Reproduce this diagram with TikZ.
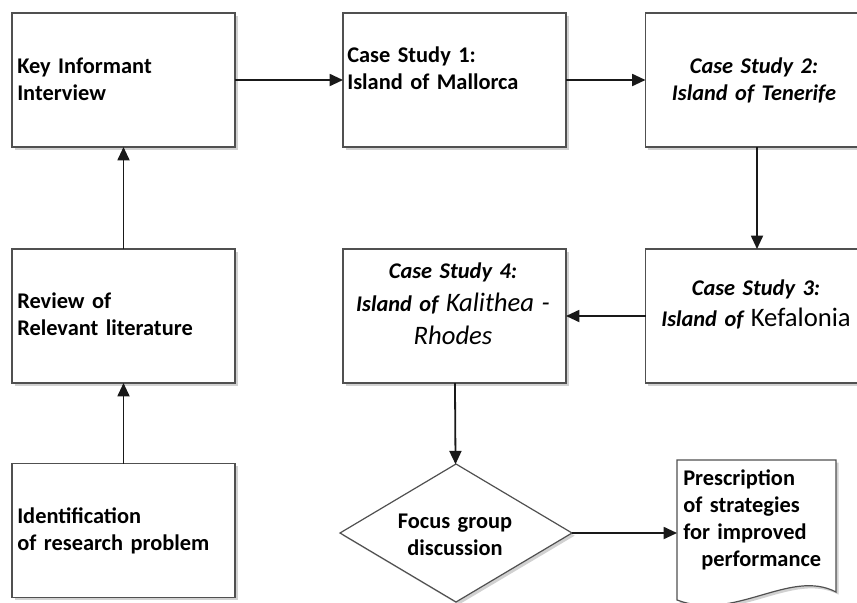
\documentclass[tikz,border=0pt]{standalone}
\usepackage{fontspec}
\setmainfont{Carlito}
\usepackage{tikz}
\usetikzlibrary{arrows.meta, shapes.geometric, shadows, positioning}
\definecolor{BoxLine}{RGB}{80,80,80}
\definecolor{ArrowDark}{RGB}{25,25,25}

\begin{document}
\begin{tikzpicture}[x=0.75pt, y=-0.75pt,
        box/.style={draw=BoxLine, line width=0.9pt, fill=white,
                    minimum width=167.25pt, minimum height=100.5pt,
                    inner sep=0pt, outer sep=0pt,
                    drop shadow={shadow xshift=2pt, shadow yshift=-2pt,
                                 fill=black!40, opacity=0.45}},
        decision/.style={box, diamond, minimum width=174pt,
                         minimum height=103.5pt},
        txt/.style={font=\fontsize{16.8}{20.25}\selectfont\bfseries,
                    inner sep=0pt, text width=168pt},
        lefttxt/.style={txt, align=left, anchor=base west},
        midtxt/.style={txt, align=center, anchor=base},
        arr/.style={ArrowDark, line width=1.35pt,
                    -{Triangle[length=10pt, width=9pt]}}
      ]
        \useasboundingbox (0,0) rectangle (857,603);
        % boxes
        \node[box] (key) at (123.5,80) {};
        \node[box] (cs1) at (454.5,80) {};
        \node[box] (cs2) at (757,80) {};
        \node[box] (review) at (123.5,316) {};
        \node[box] (cs4) at (454.5,316) {};
        \node[box] (cs3) at (757,316) {};
        \node[box] (ident) at (123.5,530.5) {};
        \node[decision] (focus) at (456,533) {};
        \coordinate (docleft) at (677,460);
        \filldraw[draw=BoxLine, line width=0.9pt, fill=white,
                  drop shadow={shadow xshift=2pt, shadow yshift=-2pt,
                               fill=black!40, opacity=0.45}]
          (docleft) -- (836,460) -- (836,592)
          .. controls (790,568) and (735,622) .. (677,600) -- cycle;
        % texts
        \node[lefttxt] (keytxt) at (17,73) {Key Informant\\Interview};
        \node[lefttxt] (cs1txt) at (347,62) {Case Study 1:\\Island of Mallorca};
        \node[midtxt] (cs2txt) at (754,73)
          {\itshape Case Study 2:\\\itshape Island of Tenerife};
        \node[lefttxt] (reviewtxt) at (17,308) {Review of\\Relevant literature};
        \node[midtxt] (cs3txt) at (756,295)
          {\itshape Case Study 3:\\[3pt]\itshape Island of
           {\upshape\mdseries\fontsize{20}{22}\selectfont Kefalonia}};
        \node[midtxt] (cs4txt) at (453,278)
          {\itshape Case Study 4:\\[4.5pt]\itshape Island of
           {\mdseries\fontsize{20}{22}\selectfont Kalithea -}\\[5pt]
           {\itshape\mdseries\fontsize{20}{22}\selectfont Rhodes}};
        \node[lefttxt] (identtxt) at (17,523)
          {Identification\\of research problem};
        \node[midtxt] (focustxt) at (455,528) {Focus group\\discussion};
        \node[lefttxt, text width=150pt] (doc) at (683,485)
          {Prescription\\of strategies\\for improved\\\hspace*{13.5pt}performance};
        % connectors
        \draw[arr] (key) -- (cs1);
        \draw[arr] (cs1) -- (cs2);
        \draw[arr] (cs2) -- (cs3);
        \draw[arr] (cs3) -- (cs4);
        \draw[arr] (cs4) -- (focus);
        \draw[arr] (focus.east) -- (focus.east -| docleft);
        \draw[arr] (ident) -- (review);
        \draw[arr] (review) -- (key);
      \end{tikzpicture}
\end{document}
